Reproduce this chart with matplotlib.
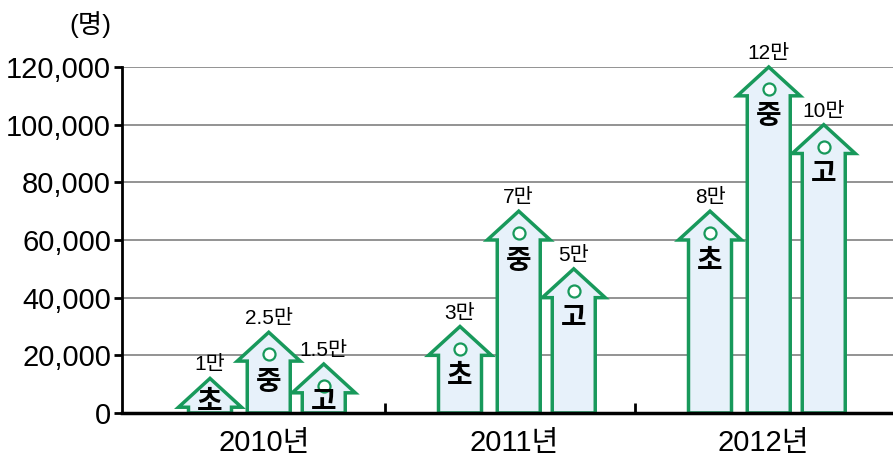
import numpy as np
import matplotlib.pyplot as plt
from matplotlib.patches import Polygon

plt.rcParams['font.family'] = ['Liberation Sans', 'Noto Sans CJK KR']

years = ['2010년', '2011년', '2012년']
levels = ['초', '중', '고']
# 화살표 높이
heights_2010 = [12000, 28000, 17000]
heights_2011 = [30000, 70000, 50000]
heights_2012 = [70000, 120000, 100000]
value_labels = [['1만', '2.5만', '1.5만'],
                ['3만', '7만', '5만'],
                ['8만', '12만', '10만']]
yticks = [0, 20000, 40000, 60000, 80000, 100000, 120000]

green = '#18995b'
fill = '#e7f1fa'
offsets = [-0.2, 0.035, 0.255]
body_w = 0.172
head_w = 0.252
head_h = 10000

fig = plt.figure(figsize=(8.93, 4.57), dpi=100)
ax = fig.add_axes([122 / 893, 1 - 413 / 457, 1 - 122 / 893, (413 - 67) / 457])

all_heights = [heights_2010, heights_2011, heights_2012]
for i, hs in enumerate(all_heights):
    # 가운데(중) 화살표를 맨 위에 그림
    for j in [0, 2, 1]:
        v = hs[j]
        x = i + offsets[j]
        pts = [(x - body_w / 2, 0), (x - body_w / 2, v - head_h), (x - head_w / 2, v - head_h),
               (x, v), (x + head_w / 2, v - head_h), (x + body_w / 2, v - head_h), (x + body_w / 2, 0)]
        ax.add_patch(Polygon(pts, closed=True, facecolor=fill, edgecolor=green, lw=2.5,
                             joinstyle='miter', zorder=3 + (j == 1), clip_on=False))
        if v >= 15000:
            ax.scatter([x], [v - 7700], s=75, facecolor='white', edgecolor=green, lw=1.6,
                       zorder=5, clip_on=False)
        ax.text(x, max(v - 17500, 3500), levels[j], ha='center', va='center', fontsize=20,
                fontweight='bold', zorder=6)
        ax.annotate(value_labels[i][j], (x, v), xytext=(0, 4), textcoords='offset pixels',
                    ha='center', va='bottom', fontsize=15, zorder=6, annotation_clip=False)

ax.set_xlim(-0.552, 2.532)
ax.set_ylim(0, 120000)
ax.set_yticks(yticks)
ax.set_yticklabels([f'{t:,}' for t in yticks], fontsize=21)
ax.grid(axis='y', color='#808080', lw=1.2, zorder=1)
ax.set_axisbelow(True)
ax.set_xticks([0.5, 1.5])
ax.set_xticklabels([])
ax.tick_params(axis='x', direction='in', length=7, width=2)
ax.tick_params(axis='y', direction='out', length=6, width=2, pad=2)
for s in ['top', 'right']:
    ax.spines[s].set_visible(False)
ax.spines['left'].set_linewidth(2)
ax.spines['bottom'].set_linewidth(2.5)
ax.spines['bottom'].set_zorder(7)

for i, y in enumerate(years):
    ax.text(i + 0.015, -5500, y, ha='center', va='top', fontsize=21)

fig.text(90 / 893, 1 - 25 / 457, '(명)', ha='center', va='center', fontsize=19)

fig.savefig('out.png', dpi=100)
